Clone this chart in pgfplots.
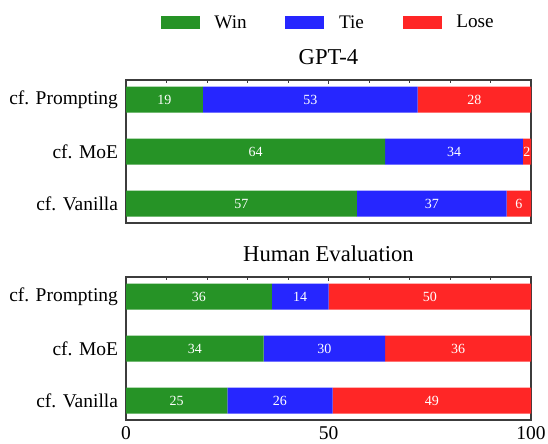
\documentclass[border=0pt]{standalone}
\usepackage{pgfplots}
\pgfplotsset{compat=1.18}
\usepackage{fontspec}
\setmainfont{Liberation Serif}
\definecolor{cwin}{RGB}{38,147,38}
\definecolor{ctie}{RGB}{38,38,255}
\definecolor{close}{RGB}{255,38,38}
\definecolor{axgray}{RGB}{60,60,60}
\pgfplotsset{
  panel/.style={
    scale only axis, width=303.75pt, height=107.25pt,
    xmin=0, xmax=100, ymin=-0.375, ymax=2.375, y dir=reverse,
    axis line style={axgray, line width=0.8pt},
    xtick={0,50,100}, minor xtick={10,20,30,40,60,70,80,90},
    xtick pos=upper, xticklabel pos=lower,
    major tick length=3pt, minor tick length=2.2pt,
    xtick style={axgray, line width=0.6pt},
    ytick={0,1,2}, yticklabels={cf. Prompting, cf. MoE, cf. Vanilla},
    ytick style={draw=none},
    ticklabel style={font=\fontsize{14.6}{17}\selectfont},
    yticklabel style={xshift=-2.5pt},
    xticklabel style={yshift=-1.5pt},
    /pgf/number format/assume math mode=true,
    title style={at={(0.5,1)}, anchor=center, yshift=11.25pt, font=\fontsize{17}{20}\selectfont},
  },
  bars/.style={panel, xbar stacked, bar width=0.5},
  labs/.style={panel, hide axis, clip=false},
  lab/.style={only marks, mark=none, nodes near coords, point meta=explicit symbolic,
    nodes near coords style={anchor=center, text=white, font=\fontsize{10.5}{12}\selectfont}},
}
\begin{document}
\begin{tikzpicture}
\useasboundingbox (-94.5pt,-272.25pt) rectangle (316.5pt,60pt);
% ---------- GPT-4 ----------
\begin{axis}[bars, at={(0,0)}, anchor=north west, title={GPT-4}, xticklabels={},
  legend style={at={(0.5,1)}, anchor=center, yshift=43pt, draw=none, fill=none,
    legend columns=3, font=\fontsize{14.4}{17}\selectfont,
    /tikz/every odd column/.append style={column sep=9pt},
    /tikz/every even column/.append style={column sep=27pt}},
  legend image code/.code={\fill[#1, draw=none] (0pt,-5pt) rectangle (29.25pt,5pt);}]
\addplot[fill=cwin, draw=none] coordinates {(19,0) (64,1) (57,2)};
\addplot[fill=ctie, draw=none] coordinates {(53,0) (34,1) (37,2)};
\addplot[fill=close, draw=none] coordinates {(28,0) (2,1) (6,2)};
\legend{Win, Tie, Lose}
\end{axis}
\begin{axis}[labs, at={(0,0)}, anchor=north west]
\addplot[lab] table[meta=lab] {
x y lab
9.5 0 19
45.5 0 53
86 0 28
32 1 64
81 1 34
99 1 2
28.5 2 57
75.5 2 37
97 2 6
};
\end{axis}
% ---------- Human Evaluation ----------
\begin{axis}[bars, at={(0,-147.75pt)}, anchor=north west, title={Human Evaluation}]
\addplot[fill=cwin, draw=none] coordinates {(36,0) (34,1) (25,2)};
\addplot[fill=ctie, draw=none] coordinates {(14,0) (30,1) (26,2)};
\addplot[fill=close, draw=none] coordinates {(50,0) (36,1) (49,2)};
\end{axis}
\begin{axis}[labs, at={(0,-147.75pt)}, anchor=north west]
\addplot[lab] table[meta=lab] {
x y lab
18 0 36
43 0 14
75 0 50
17 1 34
49 1 30
82 1 36
12.5 2 25
38 2 26
75.5 2 49
};
\end{axis}
\end{tikzpicture}
\end{document}
